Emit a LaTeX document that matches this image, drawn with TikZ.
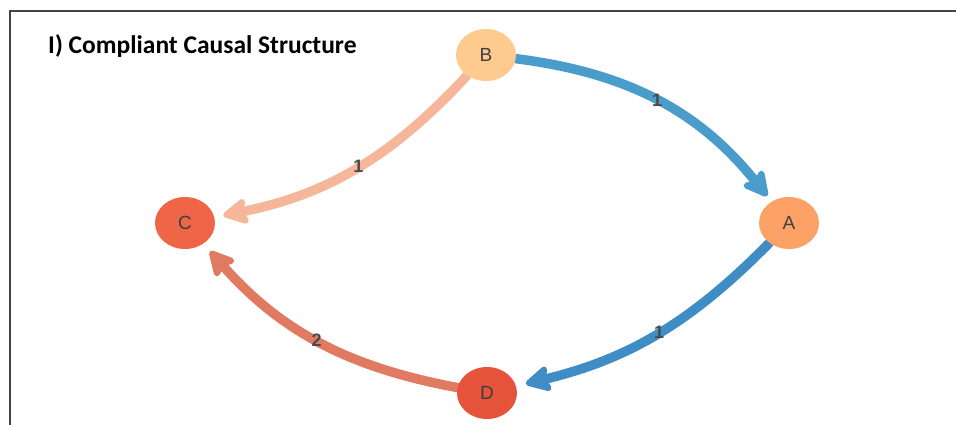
\documentclass[tikz,border=0pt]{standalone}
\usepackage{fontspec}
\setmainfont{Liberation Sans}
\newfontfamily\titlefont{Carlito}
\usetikzlibrary{arrows.meta,shapes.geometric}

\definecolor{nodeB}{HTML}{FDCB8E}
\definecolor{nodeA}{HTML}{FDA266}
\definecolor{nodeC}{HTML}{EF6548}
\definecolor{nodeD}{HTML}{E5533A}
\definecolor{edgeBA}{HTML}{4A9CCB}
\definecolor{edgeAD}{HTML}{3F8DC4}
\definecolor{edgeBC}{HTML}{F6B699}
\definecolor{edgeDC}{HTML}{E07A60}
\definecolor{framegray}{HTML}{444444}
\definecolor{labelgray}{HTML}{3F3F3F}
\definecolor{weightgray}{HTML}{4A4A4A}

\tikzset{
  vertex/.style={ellipse, minimum width=60pt, minimum height=52pt, inner sep=0pt,
    text=labelgray, font=\fontsize{19}{19}\selectfont},
  link/.style={line width=9.5pt, line cap=round,
    -{Stealth[length=30pt, width=31pt, inset=6pt, round]}},
  weight/.style={text=weightgray, font=\bfseries\fontsize{18}{18}\selectfont, inner sep=1pt}
}

\begin{document}
\begin{tikzpicture}[x=1pt, y=1pt]
  \useasboundingbox (0,0) rectangle (956,-425);

  % frame (top and left sides only)
  \draw[framegray, line width=1.5pt] (10,-425) -- (10,-11) -- (956,-11);

  % title
  \node[anchor=west, inner sep=0pt, font=\titlefont\bfseries\fontsize{25.5}{25.5}\selectfont] (title) at (48,-46)
    {I) Compliant Causal Structure};

  % vertex outlines (placed first so the links can attach to them)
  \node[vertex] (B) at (486,-55) {};
  \node[vertex] (C) at (185,-223) {};
  \node[vertex] (A) at (789,-223) {};
  \node[vertex] (D) at (487,-393) {};

  % weighted causal links
  \draw[link, edgeBA, shorten >=7pt] (B) to[bend left=22] node[weight, pos=0.49] (wBA) {1} (A);
  \draw[link, edgeAD, shorten >=10pt] (A) to[bend left=16] node[weight, pos=0.48] (wAD) {1} (D);
  \draw[link, edgeBC, shorten >=9pt] (B) to[bend left=18] node[weight, pos=0.48] (wBC) {1} (C);
  \draw[link, edgeDC, shorten >=10pt] (D) to[bend left=19] node[weight, pos=0.5] (wDC) {2} (C);

  % vertices drawn over the link ends
  \node[vertex, fill=nodeB] at (B) {B};
  \node[vertex, fill=nodeC] at (C) {C};
  \node[vertex, fill=nodeA] at (A) {A};
  \node[vertex, fill=nodeD] at (D) {D};
\end{tikzpicture}
\end{document}
